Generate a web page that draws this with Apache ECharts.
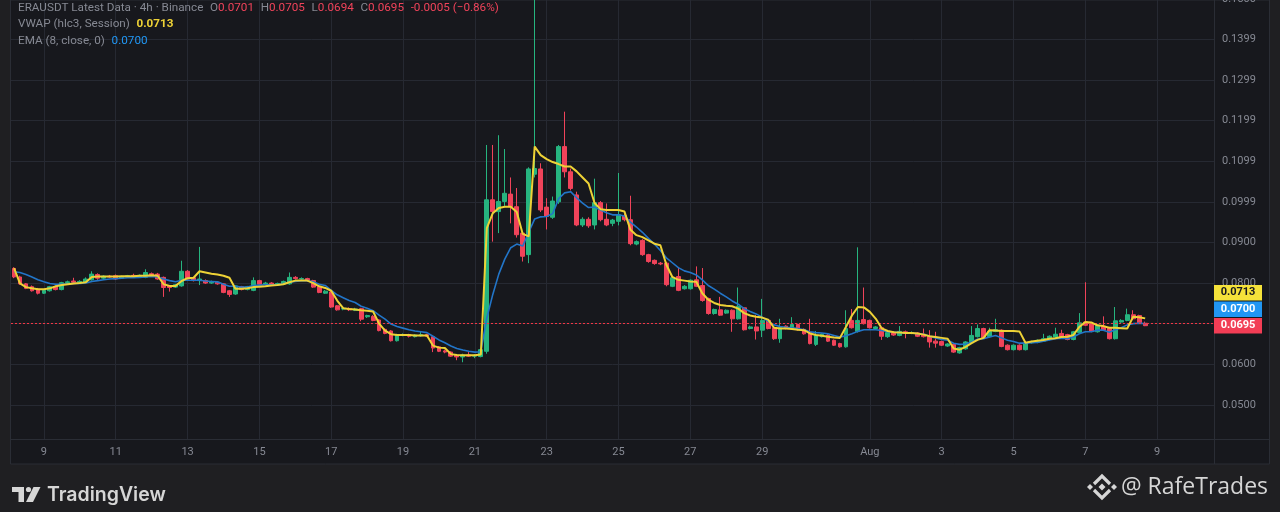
<!DOCTYPE html>
<html><head><meta charset="utf-8">
<script src="https://cdn.jsdelivr.net/npm/echarts@6/dist/echarts.min.js"></script>
<style>html,body{margin:0;padding:0;background:#1f1f22;overflow:hidden}#chart{width:1280px;height:512px}</style>
</head><body><div id="chart"></div>
<script>
// ---- data (ERA/USDT, 4h candles, Binance) ----
const startTimeUTC = Date.UTC(2025, 6, 8, 4);   // first candle
const categoryCount = 201;                       // slots on the time axis (incl. empty right margin)

const opens = [
.0836,.0815,.0798,.0791,.0785,.0775,.0781,.0791,.0784,.0801,
.0805,.0802,.0802,.0808,.0821,.0812,.0817,.0818,.0812,.0815,
.0819,.0815,.0814,.0823,.0822,.0814,.0793,.0790,.0793,.0829,
.0813,.0806,.0806,.0800,.0802,.0798,.0781,.0773,.0791,.0784,
.0782,.0806,.0798,.0800,.0795,.0798,.0798,.0814,.0810,.0811,
.0806,.0791,.0775,.0778,.0744,.0736,.0737,.0733,.0737,.0717,
.0718,.0709,.0686,.0682,.0658,.0671,.0673,.0668,.0670,.0673,
.0668,.0643,.0633,.0630,.0622,.0618,.0623,.0620,.0619,.0632,
.1005,.0976,.1001,.1019,.0988,.0923,.0870,.1068,.1081,.0987,
.0962,.1000,.1136,.1074,.1017,.0943,.0957,.0943,.0998,.0957,
.0947,.0952,.0966,.0956,.0896,.0905,.0870,.0856,.0849,.0849,
.0792,.0816,.0786,.0786,.0808,.0794,.0762,.0725,.0734,.0726,
.0733,.0712,.0739,.0688,.0692,.0684,.0708,.0690,.0663,.0694,
.0688,.0698,.0686,.0679,.0649,.0668,.0672,.0659,.0651,.0643,
.0708,.0681,.0710,.0708,.0688,.0690,.0668,.0679,.0671,.0680,
.0677,.0677,.0674,.0669,.0657,.0656,.0645,.0649,.0628,.0638,
.0653,.0668,.0688,.0668,.0681,.0684,.0647,.0636,.0647,.0636,
.0653,.0654,.0657,.0661,.0667,.0676,.0673,.0661,.0678,.0704,
.0700,.0680,.0694,.0690,.0663,.0704,.0708,.0722,.0720,.0701];
const highs = [
.0839,.0818,.0800,.0794,.0788,.0784,.0793,.0794,.0803,.0806,
.0813,.0807,.0814,.0829,.0824,.0819,.0820,.0821,.0818,.0820,
.0823,.0821,.0834,.0826,.0825,.0816,.0795,.0798,.0855,.0832,
.0815,.0889,.0809,.0806,.0804,.0800,.0783,.0795,.0793,.0793,
.0814,.0808,.0803,.0802,.0801,.0806,.0826,.0817,.0814,.0813,
.0808,.0793,.0783,.0780,.0746,.0740,.0740,.0739,.0739,.0722,
.0721,.0711,.0688,.0684,.0675,.0676,.0675,.0674,.0680,.0675,
.0670,.0645,.0636,.0632,.0625,.0626,.0630,.0625,.0638,.1140,
.1140,.1164,.1130,.1060,.1034,.0925,.1085,.1520,.1095,.1009,
.1013,.1140,.1222,.1082,.1025,.0962,.0962,.1057,.1002,.0996,
.0958,.1071,.0970,.1015,.0905,.0908,.0872,.0858,.0852,.0852,
.0816,.0839,.0795,.0809,.0841,.0837,.0764,.0737,.0766,.0735,
.0735,.0789,.0741,.0695,.0721,.0761,.0711,.0692,.0712,.0696,
.0716,.0700,.0688,.0712,.0682,.0676,.0674,.0661,.0653,.0733,
.0736,.0888,.0789,.0710,.0694,.0692,.0680,.0681,.0694,.0683,
.0681,.0679,.0688,.0684,.0680,.0658,.0652,.0651,.0643,.0657,
.0694,.0698,.0690,.0690,.0712,.0686,.0649,.0649,.0649,.0655,
.0658,.0661,.0675,.0671,.0690,.0685,.0675,.0682,.0726,.0802,
.0702,.0698,.0718,.0692,.0741,.0711,.0737,.0733,.0722,.0705];
const lows = [
.0812,.0796,.0785,.0779,.0772,.0773,.0779,.0782,.0782,.0799,
.0800,.0800,.0800,.0806,.0808,.0810,.0813,.0808,.0810,.0813,
.0814,.0813,.0812,.0818,.0808,.0766,.0779,.0788,.0791,.0808,
.0804,.0795,.0798,.0798,.0796,.0775,.0766,.0771,.0782,.0782,
.0780,.0795,.0796,.0793,.0793,.0796,.0796,.0809,.0808,.0804,
.0788,.0775,.0773,.0739,.0732,.0733,.0731,.0731,.0706,.0714,
.0706,.0681,.0674,.0656,.0656,.0669,.0666,.0666,.0668,.0667,
.0630,.0630,.0627,.0618,.0610,.0605,.0618,.0615,.0617,.0626,
.0902,.0923,.0990,.0947,.0912,.0853,.0849,.1060,.0975,.0932,
.0958,.0995,.1060,.1028,.0940,.0938,.0936,.0932,.0952,.0940,
.0940,.0942,.0952,.0893,.0893,.0867,.0850,.0845,.0844,.0792,
.0790,.0780,.0784,.0784,.0790,.0754,.0722,.0722,.0719,.0724,
.0680,.0710,.0683,.0686,.0661,.0667,.0686,.0660,.0653,.0686,
.0686,.0683,.0673,.0649,.0645,.0666,.0655,.0645,.0641,.0641,
.0688,.0678,.0698,.0688,.0686,.0660,.0665,.0670,.0669,.0664,
.0674,.0667,.0666,.0641,.0641,.0645,.0643,.0628,.0626,.0636,
.0651,.0666,.0664,.0666,.0679,.0642,.0634,.0634,.0634,.0634,
.0651,.0652,.0655,.0659,.0665,.0665,.0659,.0659,.0676,.0694,
.0679,.0678,.0682,.0661,.0661,.0702,.0706,.0710,.0700,.0694];
const closes = [
.0815,.0798,.0787,.0781,.0775,.0782,.0791,.0784,.0801,.0803,
.0802,.0804,.0810,.0822,.0812,.0817,.0815,.0810,.0816,.0818,
.0816,.0819,.0826,.0820,.0810,.0789,.0789,.0796,.0829,.0810,
.0806,.0810,.0800,.0802,.0798,.0777,.0772,.0793,.0784,.0791,
.0806,.0797,.0800,.0795,.0799,.0804,.0814,.0811,.0811,.0806,
.0790,.0777,.0780,.0741,.0734,.0738,.0734,.0736,.0711,.0720,
.0708,.0683,.0676,.0658,.0673,.0673,.0669,.0672,.0673,.0669,
.0640,.0632,.0630,.0620,.0618,.0623,.0620,.0622,.0636,.1005,
.0976,.1001,.1021,.0988,.0919,.0866,.1081,.1082,.0980,.0964,
.1002,.1136,.1074,.1033,.0943,.0957,.0941,.0998,.0956,.0943,
.0955,.0968,.0956,.0897,.0902,.0870,.0853,.0848,.0847,.0796,
.0813,.0782,.0792,.0807,.0792,.0757,.0725,.0735,.0721,.0733,
.0712,.0743,.0685,.0692,.0682,.0708,.0688,.0663,.0690,.0688,
.0698,.0685,.0675,.0651,.0671,.0674,.0657,.0647,.0643,.0688,
.0690,.0708,.0700,.0690,.0692,.0669,.0678,.0672,.0681,.0676,
.0678,.0669,.0668,.0655,.0652,.0647,.0650,.0630,.0641,.0655,
.0671,.0688,.0666,.0681,.0685,.0644,.0636,.0647,.0636,.0653,
.0655,.0659,.0663,.0669,.0674,.0667,.0661,.0680,.0702,.0696,
.0681,.0696,.0684,.0663,.0707,.0708,.0722,.0712,.0702,.0695];
const emaValues = [
.0828,.0826,.0821,.0815,.0808,.0803,.0799,.0797,.0797,.0798,
.0799,.0799,.0800,.0804,.0806,.0808,.0810,.0811,.0812,.0813,
.0813,.0814,.0815,.0816,.0815,.0810,.0806,.0803,.0807,.0807,
.0807,.0807,.0805,.0804,.0803,.0797,.0792,.0792,.0790,.0790,
.0794,.0795,.0796,.0796,.0796,.0798,.0802,.0804,.0806,.0806,
.0803,.0797,.0794,.0782,.0771,.0764,.0757,.0752,.0743,.0738,
.0732,.0721,.0711,.0699,.0693,.0689,.0685,.0682,.0680,.0678,
.0669,.0660,.0653,.0645,.0639,.0635,.0632,.0630,.0631,.0714,
.0772,.0822,.0859,.0887,.0896,.0891,.0925,.0958,.0963,.0964,
.0971,.1008,.1022,.1025,.1010,.0997,.0986,.0987,.0980,.0973,
.0968,.0968,.0965,.0950,.0938,.0925,.0910,.0896,.0880,.0862,
.0850,.0838,.0830,.0826,.0820,.0808,.0794,.0785,.0775,.0766,
.0756,.0748,.0737,.0730,.0724,.0716,.0706,.0697,.0693,.0691,
.0690,.0688,.0685,.0680,.0678,.0677,.0675,.0671,.0667,.0670,
.0675,.0681,.0685,.0685,.0685,.0683,.0680,.0679,.0678,.0677,
.0677,.0675,.0674,.0669,.0665,.0661,.0659,.0652,.0649,.0650,
.0655,.0662,.0663,.0667,.0671,.0665,.0659,.0656,.0652,.0652,
.0653,.0654,.0657,.0660,.0663,.0664,.0663,.0667,.0675,.0680,
.0680,.0684,.0684,.0679,.0685,.0690,.0697,.0700,.0701,.0700];
const vwapValues = [
.0837,.0799,.0790,.0787,.0785,.0785,.0787,.0792,.0795,.0797,
.0799,.0800,.0802,.0815,.0816,.0816,.0816,.0816,.0817,.0817,
.0817,.0818,.0818,.0819,.0818,.0797,.0793,.0793,.0805,.0812,
.0813,.0829,.0826,.0823,.0821,.0818,.0813,.0786,.0786,.0787,
.0790,.0791,.0792,.0794,.0795,.0797,.0802,.0806,.0806,.0806,
.0800,.0792,.0788,.0781,.0757,.0738,.0736,.0735,.0733,.0732,
.0730,.0700,.0683,.0674,.0672,.0672,.0672,.0671,.0671,.0671,
.0646,.0641,.0640,.0625,.0623,.0622,.0622,.0622,.0624,.0935,
.0972,.0985,.0988,.0988,.0975,.0921,.0915,.1136,.1115,.1105,
.1098,.1093,.1087,.1087,.1075,.1060,.1045,.0997,.0982,.0980,
.0980,.0980,.0976,.0931,.0918,.0913,.0905,.0897,.0893,.0845,
.0815,.0808,.0806,.0804,.0803,.0775,.0759,.0751,.0746,.0744,
.0743,.0737,.0726,.0720,.0717,.0715,.0710,.0690,.0688,.0688,
.0687,.0685,.0684,.0676,.0672,.0670,.0668,.0666,.0665,.0692,
.0720,.0741,.0740,.0729,.0712,.0688,.0682,.0679,.0678,.0677,
.0677,.0676,.0673,.0669,.0667,.0665,.0663,.0639,.0636,.0643,
.0652,.0660,.0665,.0684,.0683,.0682,.0682,.0682,.0681,.0653,
.0656,.0658,.0660,.0663,.0664,.0667,.0668,.0672,.0692,.0704,
.0703,.0696,.0694,.0690,.0690,.0689,.0688,.0717,.0716,.0713];

const xTickDates  = ['07-09','07-11','07-13','07-15','07-17','07-19','07-21','07-23','07-25','07-27','07-29','08-01','08-03','08-05','08-07','08-09'];
const xTickLabels = ['9','11','13','15','17','19','21','23','25','27','29','Aug','3','5','7','9'];
const yTickLabels = ['0.0500','0.0600','0.0700','0.0800','0.0900','0.0999','0.1099','0.1199','0.1299','0.1399']; // 0.05 .. 0.14
const topCutLabel = '0.1500';

// header values as shown by the platform
const headerChange = '-0.0005';
const headerChangePct = '(\u22120.86%)';

const lastOpen = opens[opens.length-1], lastHigh = highs[highs.length-1],
      lastLow = lows[lows.length-1], lastClose = closes[closes.length-1];
const lastVwap = vwapValues[vwapValues.length-1], lastEma = emaValues[emaValues.length-1];

// ---- build ----
const pad = n => String(n).padStart(2,'0');
const categories = [];
for (let i = 0; i < categoryCount; i++) {
  const d = new Date(startTimeUTC + i * 4 * 3600 * 1000);
  categories.push(pad(d.getUTCMonth()+1) + '-' + pad(d.getUTCDate()) + ' ' + pad(d.getUTCHours()) + ':00');
}
const catLabel = {};
xTickDates.forEach((d,k) => { catLabel[d + ' 00:00'] = xTickLabels[k]; });
const isTick = (idx, val) => Object.prototype.hasOwnProperty.call(catLabel, val);

const candleData = opens.map((o,i) => [o, closes[i], lows[i], highs[i]]);

const UP = '#26b47f', DOWN = '#f0435a', GRIDC = '#262932', TXT = '#868993';
const FONT = 'Roboto, "Noto Sans", sans-serif';

const chart = echarts.init(document.getElementById('chart'), null, {renderer:'canvas'});

const fmt4 = v => v.toFixed(4);

const option = {
  backgroundColor: 'transparent',
  animation: false,
  grid: { left: 11, right: 66, top: 0, bottom: 73, containLabel: false },
  xAxis: {
    type: 'category', data: categories, boundaryGap: true,
    axisLine: { show: false }, axisTick: { show: false },
    axisLabel: { interval: isTick, formatter: v => catLabel[v] || '', color: TXT, fontSize: 11, fontFamily: FONT, margin: 8 },
    splitLine: { show: true, alignWithLabel: true, interval: isTick, lineStyle: { color: GRIDC, width: 1 } }
  },
  yAxis: {
    type: 'value', position: 'right', scale: true,
    min: 0.0416, max: 0.1497, splitNumber: 10, minInterval: 0.01, maxInterval: 0.01,
    axisLine: { show: false }, axisTick: { show: false },
    axisLabel: {
      color: TXT, fontSize: 11, fontFamily: FONT, margin: 8, showMinLabel: false, showMaxLabel: false,
      formatter: v => { const k = Math.round(v*100) - 5; return yTickLabels[k] || ''; }
    },
    splitLine: { show: true, showMinLine: false, showMaxLine: false, lineStyle: { color: GRIDC, width: 1 } }
  },
  series: [
    {
      type: 'candlestick', name: 'ERAUSDT', data: candleData, barWidth: '72%', z: 3,
      itemStyle: { color: UP, color0: DOWN, borderColor: UP, borderColor0: DOWN, borderWidth: 1 },
      markLine: {
        silent: true, symbol: ['none','none'], label: { show: false }, animation: false,
        lineStyle: { color: '#f23645', type: [2, 2], width: 1, opacity: 1 },
        emphasis: { disabled: true },
        data: [{ yAxis: lastClose, lineStyle: { color: '#f23645', type: [2, 2], width: 1, opacity: 1 } }]
      }
    },
    { type: 'line', name: 'EMA', data: emaValues, symbol: 'none', z: 4,
      lineStyle: { color: '#2275c8', width: 1.6 } },
    { type: 'line', name: 'VWAP', data: vwapValues, symbol: 'none', z: 5,
      lineStyle: { color: '#eed236', width: 2 } }
  ]
};
chart.setOption(option);

// ---- decorations (panel, legend, price badges, footer) ----
const redY = chart.convertToPixel({ yAxisIndex: 0 }, lastClose);
const topY = chart.convertToPixel({ yAxisIndex: 0 }, 0.15);
const BH = 15.5, BX = 1214, BW = 48;
const badge = (cy, bg, fg, txt) => ([
  { type: 'rect', z: 50, shape: { x: BX, y: cy - BH/2, width: BW, height: BH }, style: { fill: bg } },
  { type: 'text', z: 51, x: BX + BW/2, y: cy, style: { text: txt, fill: fg, font: 'bold 11px ' + FONT, align: 'center', verticalAlign: 'middle' } }
]);
const g = [
  { type: 'rect', z: -100, silent: true, shape: { x: 0, y: 0, width: 1280, height: 512 }, style: { fill: '#1f1f22' } },
  { type: 'rect', z: -99, silent: true, shape: { x: 10.5, y: 0, width: 1259, height: 464 }, style: { fill: '#17181d', stroke: '#2a2d35', lineWidth: 1 } },
  { type: 'line', z: 10, shape: { x1: 10, y1: 439.5, x2: 1270, y2: 439.5 }, style: { stroke: '#2a2d35', lineWidth: 1 } },
  { type: 'line', z: 10, shape: { x1: 1214.5, y1: 0, x2: 1214.5, y2: 464 }, style: { stroke: '#2a2d35', lineWidth: 1 } },
  { type: 'text', z: 10, x: 1222, y: topY, style: { text: topCutLabel, fill: TXT, font: '11px ' + FONT, verticalAlign: 'middle' } },
  // legend
  { type: 'text', z: 60, x: 18, y: 8, style: {
      text: '{g|ERAUSDT Latest Data \u00b7 4h \u00b7 Binance}  {g|O}{r|' + fmt4(lastOpen) + '}  {g|H}{r|' + fmt4(lastHigh) + '}  {g|L}{r|' + fmt4(lastLow) + '}  {g|C}{r|' + fmt4(lastClose) + '}  {r|' + headerChange + ' ' + headerChangePct + '}',
      verticalAlign: 'middle',
      rich: { g: { fill: TXT, font: '11.7px ' + FONT }, r: { fill: DOWN, font: '11.7px ' + FONT } } } },
  { type: 'text', z: 60, x: 18, y: 24, style: {
      text: '{g|VWAP (hlc3, Session)}  {y|' + fmt4(lastVwap) + '}', verticalAlign: 'middle',
      rich: { g: { fill: TXT, font: '11.7px ' + FONT }, y: { fill: '#eed236', font: 'bold 11.7px ' + FONT } } } },
  { type: 'text', z: 60, x: 18, y: 41, style: {
      text: '{g|EMA (8, close, 0)}  {b|' + fmt4(lastEma) + '}', verticalAlign: 'middle',
      rich: { g: { fill: TXT, font: '11.7px ' + FONT }, b: { fill: '#2196f3', font: '11.7px ' + FONT } } } },
  ...badge(redY - 2*(BH+1), '#f5e23a', '#17181d', fmt4(lastVwap)),
  ...badge(redY - (BH+1), '#2196f3', '#ffffff', fmt4(lastEma)),
  ...badge(redY, '#f23d55', '#ffffff', fmt4(lastClose)),
  // TradingView footer logo
  { type: 'rect', z: 60, shape: { x: 12, y: 487, width: 12, height: 5 }, style: { fill: '#d6d6d6' } },
  { type: 'rect', z: 60, shape: { x: 18.5, y: 487, width: 5.5, height: 15 }, style: { fill: '#d6d6d6' } },
  { type: 'circle', z: 60, shape: { cx: 28.5, cy: 489.5, r: 2.6 }, style: { fill: '#d6d6d6' } },
  { type: 'polygon', z: 60, shape: { points: [[33.5,487],[40.5,487],[33,502],[26,502]] }, style: { fill: '#d6d6d6' } },
  { type: 'text', z: 60, x: 47, y: 495, style: { text: 'TradingView', fill: '#d6d6d6', font: '600 19.5px Inter, Roboto, sans-serif', verticalAlign: 'middle' } },
  // watermark
  { type: 'polyline', z: 60, shape: { points: [[1094,484],[1102,476],[1110,484]] }, style: { stroke: '#d6d6d6', lineWidth: 3.2, fill: null } },
  { type: 'polyline', z: 60, shape: { points: [[1094,490],[1102,498],[1110,490]] }, style: { stroke: '#d6d6d6', lineWidth: 3.2, fill: null } },
  { type: 'polygon', z: 60, shape: { points: [[1102,483.5],[1105.5,487],[1102,490.5],[1098.5,487]] }, style: { fill: '#d6d6d6' } },
  { type: 'polygon', z: 60, shape: { points: [[1090,484],[1093,487],[1090,490],[1087,487]] }, style: { fill: '#d6d6d6' } },
  { type: 'polygon', z: 60, shape: { points: [[1114,484],[1117,487],[1114,490],[1111,487]] }, style: { fill: '#d6d6d6' } },
  { type: 'text', z: 60, x: 1121, y: 487, style: { text: '@ RafeTrades', fill: '#d6d6d6', font: '23px "Open Sans", sans-serif', verticalAlign: 'middle' } }
];
chart.setOption({ graphic: { elements: g } });
</script></body></html>
